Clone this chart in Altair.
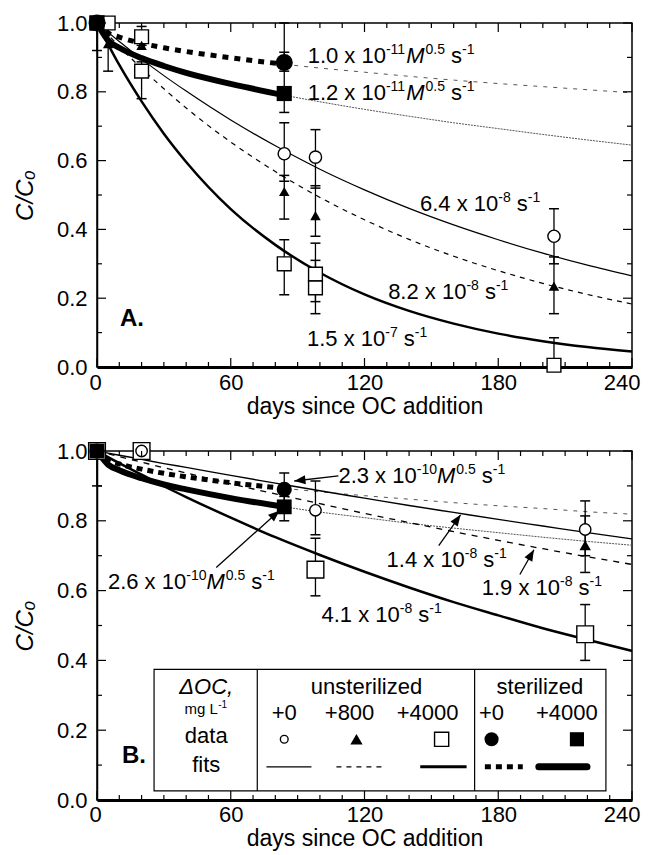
import math
import altair as alt
import pandas as pd

# ---------------- data ----------------
FIT_DAYS = [0, 10, 20, 30, 40, 60, 80, 100, 120, 140, 160, 180, 200, 220, 240]
ST_DAYS = [0, 5, 10, 20, 30, 40, 60, 84]
ST_EXT_DAYS = [84, 100, 120, 140, 160, 180, 200, 220, 240]

# panel A fits
A_FIT_64 = [1.0, 0.946, 0.895, 0.847, 0.802, 0.718, 0.643, 0.575, 0.515, 0.461, 0.413, 0.370, 0.331, 0.296, 0.265]
A_FIT_82 = [1.0, 0.932, 0.868, 0.809, 0.753, 0.654, 0.568, 0.493, 0.428, 0.371, 0.322, 0.280, 0.243, 0.211, 0.183]
A_FIT_150 = [1.0, 0.878, 0.772, 0.678, 0.596, 0.459, 0.355, 0.274, 0.211, 0.163, 0.126, 0.097, 0.075, 0.058, 0.045]
A_ST0 = [1.0, 0.971, 0.959, 0.941, 0.928, 0.917, 0.899, 0.880]
A_ST0_EXT = [0.880, 0.869, 0.857, 0.845, 0.834, 0.824, 0.815, 0.806, 0.797]
A_ST4 = [1.0, 0.949, 0.928, 0.898, 0.875, 0.855, 0.823, 0.790]
A_ST4_EXT = [0.790, 0.771, 0.749, 0.729, 0.710, 0.693, 0.676, 0.660, 0.645]

# panel B fits
B_FIT_14 = [1.0, 0.988, 0.976, 0.964, 0.953, 0.930, 0.908, 0.886, 0.865, 0.844, 0.824, 0.804, 0.785, 0.766, 0.748]
B_FIT_19 = [1.0, 0.984, 0.968, 0.952, 0.937, 0.906, 0.877, 0.849, 0.821, 0.795, 0.769, 0.744, 0.720, 0.697, 0.675]
B_FIT_41 = [1.0, 0.965, 0.932, 0.899, 0.868, 0.809, 0.753, 0.702, 0.654, 0.609, 0.567, 0.529, 0.492, 0.459, 0.427]
B_ST0 = [1.0, 0.974, 0.963, 0.948, 0.936, 0.926, 0.909, 0.893]
B_ST0_EXT = [0.893, 0.883, 0.872, 0.862, 0.852, 0.843, 0.835, 0.826, 0.819]
B_ST4 = [1.0, 0.961, 0.945, 0.922, 0.904, 0.890, 0.865, 0.840]
B_ST4_EXT = [0.840, 0.825, 0.809, 0.793, 0.779, 0.766, 0.753, 0.741, 0.730]

# panel A data points (day, C/Co, error low, error high)
A_OC_DAY = [0, 84, 98, 205]
A_OC_C = [1.0, 0.62, 0.61, 0.38]
A_OC_LO = [1.0, 0.54, 0.52, 0.30]
A_OC_HI = [1.0, 0.71, 0.69, 0.46]

A_TRI_DAY = [0, 5, 20, 84, 98, 205]
A_TRI_C = [1.0, 0.94, 0.935, 0.51, 0.44, 0.235]
A_TRI_LO = [0.92, 0.94, 0.935, 0.43, 0.38, 0.155]
A_TRI_HI = [1.0, 0.94, 0.935, 0.557, 0.527, 0.32]

A_SQ_DAY = [0, 5, 20, 20, 84, 98, 98, 205]
A_SQ_C = [1.0, 1.0, 0.96, 0.86, 0.30, 0.27, 0.23, 0.005]
A_SQ_LO = [1.0, 0.86, 0.935, 0.78, 0.21, 0.19, 0.155, 0.0]
A_SQ_HI = [1.0, 1.0, 0.99, 0.887, 0.37, 0.36, 0.31, 0.085]

A_FC_DAY = [0, 84]
A_FC_C = [1.0, 0.885]
A_FC_LO = [1.0, 0.86]
A_FC_HI = [1.0, 1.0]

A_FS_DAY = [0, 84]
A_FS_C = [1.0, 0.795]
A_FS_LO = [1.0, 0.74]
A_FS_HI = [1.0, 0.915]

# panel B data points
B_OC_DAY = [0, 20, 98, 219]
B_OC_C = [1.0, 1.0, 0.83, 0.775]
B_OC_LO = [1.0, 1.0, 0.76, 0.70]
B_OC_HI = [1.0, 1.0, 0.914, 0.857]

B_TRI_DAY = [0, 219]
B_TRI_C = [1.0, 0.73]
B_TRI_LO = [0.90, 0.652]
B_TRI_HI = [1.0, 0.814]

B_SQ_DAY = [0, 20, 98, 219]
B_SQ_C = [1.0, 1.0, 0.66, 0.475]
B_SQ_LO = [1.0, 1.0, 0.585, 0.40]
B_SQ_HI = [1.0, 1.0, 0.75, 0.56]

B_FC_DAY = [0, 84]
B_FC_C = [1.0, 0.89]
B_FC_LO = [1.0, 0.85]
B_FC_HI = [1.0, 0.937]

B_FS_DAY = [0, 84]
B_FS_C = [1.0, 0.84]
B_FS_LO = [1.0, 0.80]
B_FS_HI = [1.0, 0.87]

# axis ticks
X_MAJOR = [0, 60, 120, 180, 240]
X_MINOR = [d for d in range(10, 240, 10) if d % 60]
Y_MAJOR = [0.0, 0.2, 0.4, 0.6, 0.8, 1.0]
Y_MINOR = [0.1, 0.3, 0.5, 0.7, 0.9]

# ---------------- styling ----------------
FONT = "Liberation Sans"
W, HA, HB = 535, 344, 349
XS = alt.Scale(domain=[0, 240], nice=False, zero=False)
YS = alt.Scale(domain=[0, 1], nice=False, zero=False)


def make_xaxis(label_pad, title_pad, title_size):
    return alt.Axis(values=X_MAJOR, title="days since OC addition", tickSize=0,
                    labelPadding=label_pad, titlePadding=title_pad, domainWidth=3,
                    domainColor="black", labelFontSize=22, titleFontSize=title_size,
                    labelFont=FONT, titleFont=FONT, titleFontWeight="normal",
                    labelColor="black", titleColor="black", grid=False, labelFlush=True,
                    labelFlushOffset=8, labelOverlap=False)


XAXIS_A = make_xaxis(5, 2, 23)
XAXIS_B = make_xaxis(4, 2, 23)
CUR = {"xaxis": XAXIS_A}

YAXIS = alt.Axis(values=Y_MAJOR, format=".1f", title="C/Cₒ", tickSize=0, labelPadding=10,
                 titlePadding=19, domainWidth=1.5, domainColor="black", labelFontSize=22,
                 titleFontSize=24, labelFont=FONT, titleFont=FONT, titleFontWeight="normal",
                 titleFontStyle="italic", labelColor="black", titleColor="black", grid=False,
                 labelFlush=False, labelOverlap=False)

# approximate Helvetica/Arial advance widths (em) for positioning rich-text pieces
CW = {".": 0.278, " ": 0.278, "x": 0.5, "s": 0.5, "-": 0.333, "M": 0.833, "L": 0.556,
      "m": 0.833, "g": 0.556}


def tw(s, size):
    return sum(CW.get(c, 0.556) for c in s) * size


def X(f):
    return alt.X(f"{f}:Q", scale=XS, axis=CUR["xaxis"])


def Y(f):
    return alt.Y(f"{f}:Q", scale=YS, axis=YAXIS)


def line(days, vals, **mk):
    df = pd.DataFrame({"day": days, "C": vals})
    return alt.Chart(df).mark_line(color=mk.pop("color", "black"), interpolate="monotone",
                                   clip=True, **mk).encode(x=X("day"), y=Y("C"))


def points(days, vals, lo, hi, mk):
    df = pd.DataFrame({"day": days, "C": vals, "lo": lo, "hi": hi})
    e = df[df.lo < df.hi]
    bars = alt.Chart(e).mark_rule(color="black", strokeWidth=1.3).encode(
        x=X("day"), y=Y("lo"), y2=alt.Y2("hi"))
    caps = []
    for f in ("lo", "hi"):
        sub = df[df[f] != df["C"]]
        caps.append(alt.Chart(sub).mark_rule(color="black", strokeWidth=1.5, xOffset=-5,
                                             x2Offset=5).encode(x=X("day"), x2=alt.X2("day"), y=Y(f)))
    pts = alt.Chart(df).mark_point(opacity=1, **mk).encode(x=X("day"), y=Y("C"))
    return [bars] + caps, pts


def open_mk(shape, size):
    return dict(shape=shape, size=size, filled=True, fill="white", stroke="black", strokeWidth=1.4)


def full_mk(shape, size):
    return dict(shape=shape, size=size, filled=True, color="black")


def ticks(H):
    out = []
    for vals, ln in ((X_MAJOR, 9), (X_MINOR, 5)):
        base = alt.Chart(pd.DataFrame({"t": vals})).mark_rule(color="black", strokeWidth=1.2)
        out.append(base.encode(x=X("t"), y=alt.value(H), y2=alt.value(H - ln)))
        out.append(base.encode(x=X("t"), y=alt.value(0), y2=alt.value(ln)))
    for vals, ln in ((Y_MAJOR, 9), (Y_MINOR, 5)):
        base = alt.Chart(pd.DataFrame({"t": vals})).mark_rule(color="black", strokeWidth=1.2)
        out.append(base.encode(y=Y("t"), x=alt.value(0), x2=alt.value(ln)))
        out.append(base.encode(y=Y("t"), x=alt.value(W), x2=alt.value(W - ln)))
    return out


def text(rows, align="left", size=22, **kw):
    df = pd.DataFrame(rows, columns=["x", "y", "t"])
    return alt.Chart(df).mark_text(align=align, baseline="alphabetic", font=FONT, fontSize=size,
                                   color="black", **kw).encode(x=X("x"), y=Y("y"), text="t:N")


def rich(x, y, segs, size=22, sup=14, raise_=9):
    """segs: list of (text, kind) with kind in n / sup / it"""
    out, off = [], 0.0
    for s, kind in segs:
        fs = sup if kind == "sup" else size
        lead = len(s) - len(s.lstrip(" "))
        off += tw(" " * lead, fs)
        s = s.lstrip(" ")
        kw = {"dx": round(off, 1)}
        if kind == "sup":
            kw["dy"] = -raise_
        if kind == "it":
            kw["fontStyle"] = "italic"
        out.append(text([(x, y, s)], size=fs, **kw))
        off += tw(s, fs) + (1 if kind == "it" else 0)
    return out


def rate_m(mant, exp, x, y):
    return rich(x, y, [(mant + " x 10", "n"), (exp, "sup"), ("M", "it"), ("0.5", "sup"),
                       (" s", "n"), ("-1", "sup")])


def rate(mant, exp, x, y):
    return rich(x, y, [(mant + " x 10", "n"), (exp, "sup"), (" s", "n"), ("-1", "sup")])


def arrows(rows, H):
    df = pd.DataFrame(rows, columns=["x0", "y0", "x1", "y1"])
    df["ang"] = [
        math.degrees(math.atan2((r.x1 - r.x0) * W / 240, (r.y1 - r.y0) * H)) % 360
        for r in df.itertuples()
    ]
    shaft = alt.Chart(df).mark_rule(color="black", strokeWidth=1.3).encode(
        x=X("x0"), y=Y("y0"), x2=alt.X2("x1"), y2=alt.Y2("y1"))
    head = alt.Chart(df).mark_point(shape="M0,0L-0.4,1L0.4,1Z", size=500, filled=True,
                                    color="black", opacity=1).encode(
        x=X("x1"), y=Y("y1"), angle=alt.Angle("ang:Q", scale=None))
    return [shaft, head]


# ---------------- panel A ----------------
CUR["xaxis"] = XAXIS_A
A_layers = [
    line(ST_EXT_DAYS, A_ST0_EXT, color="#555", strokeWidth=1, strokeDash=[4, 6]),
    line(ST_EXT_DAYS, A_ST4_EXT, color="#555", strokeWidth=1, strokeDash=[2, 1]),
    line(FIT_DAYS, A_FIT_64, strokeWidth=1.2),
    line(FIT_DAYS, A_FIT_82, strokeWidth=1.2, strokeDash=[5, 5]),
    line(FIT_DAYS, A_FIT_150, strokeWidth=2.5),
    line(ST_DAYS, A_ST0, strokeWidth=5, strokeDash=[6, 6], strokeCap="butt"),
    line(ST_DAYS, A_ST4, strokeWidth=6),
]
A_marks = []
for args, mk in (
    ((A_SQ_DAY, A_SQ_C, A_SQ_LO, A_SQ_HI), open_mk("square", 190)),
    ((A_TRI_DAY, A_TRI_C, A_TRI_LO, A_TRI_HI), full_mk("triangle-up", 110)),
    ((A_OC_DAY, A_OC_C, A_OC_LO, A_OC_HI), open_mk("circle", 150)),
    ((A_FC_DAY, A_FC_C, A_FC_LO, A_FC_HI), full_mk("circle", 290)),
    ((A_FS_DAY, A_FS_C, A_FS_LO, A_FS_HI), full_mk("square", 230)),
):
    e, p = points(*args, mk)
    A_layers += e
    A_marks.append(p)
A_layers += A_marks + ticks(HA)
A_layers += rate_m("1.0", "-11", 94.5, 0.883)
A_layers += rate_m("1.2", "-11", 94.5, 0.776)
A_layers += rate("6.4", "-8", 144.9, 0.453)
A_layers += rate("8.2", "-8", 130.6, 0.198)
A_layers += rate("1.5", "-7", 94.2, 0.061)
A_layers += [text([(10.3, 0.12, "A.")], size=24, fontWeight="bold")]
panelA = alt.layer(*A_layers).properties(width=W, height=HA)

# ---------------- panel B ----------------
CUR["xaxis"] = XAXIS_B
B_layers = [
    line(ST_EXT_DAYS, B_ST0_EXT, color="#555", strokeWidth=1, strokeDash=[4, 6]),
    line(ST_EXT_DAYS, B_ST4_EXT, color="#555", strokeWidth=1, strokeDash=[2, 1]),
    line(FIT_DAYS, B_FIT_14, strokeWidth=1.4),
    line(FIT_DAYS, B_FIT_19, strokeWidth=1.3, strokeDash=[6, 6]),
    line(FIT_DAYS, B_FIT_41, strokeWidth=2.5),
    line(ST_DAYS, B_ST0, strokeWidth=5, strokeDash=[6, 5], strokeCap="butt"),
    line(ST_DAYS, B_ST4, strokeWidth=6),
]
B_marks = []
for args, mk in (
    ((B_SQ_DAY, B_SQ_C, B_SQ_LO, B_SQ_HI), open_mk("square", 280)),
    ((B_TRI_DAY, B_TRI_C, B_TRI_LO, B_TRI_HI), full_mk("triangle-up", 130)),
    ((B_OC_DAY, B_OC_C, B_OC_LO, B_OC_HI), open_mk("circle", 130)),
    ((B_FC_DAY, B_FC_C, B_FC_LO, B_FC_HI), full_mk("circle", 230)),
    ((B_FS_DAY, B_FS_C, B_FS_LO, B_FS_HI), full_mk("square", 220)),
):
    e, p = points(*args, mk)
    B_layers += e
    B_marks.append(p)
B_layers += B_marks + ticks(HB)
B_layers += rate_m("2.3", "-10", 108.3, 0.909)
B_layers += rate_m("2.6", "-10", 4.9, 0.604)
B_layers += rate("1.4", "-8", 129.9, 0.669)
B_layers += rate("1.9", "-8", 172.6, 0.586)
B_layers += rate("4.1", "-8", 100.7, 0.509)
B_layers += [text([(11.2, 0.105, "B.")], size=24, fontWeight="bold")]
B_layers += arrows([(108.3, 0.929, 88.5, 0.914), (53.5, 0.666, 81.8, 0.829),
                    (153.3, 0.729, 163.1, 0.817), (189.7, 0.646, 196.0, 0.717)], HB)

# legend table
LEG_BOX = pd.DataFrame({"x0": [25.6], "x1": [228.3], "y0": [0.026], "y1": [0.374]})
LEG_DIV = pd.DataFrame({"x": [71.9, 169.4], "y0": [0.026, 0.026], "y1": [0.374, 0.374]})
B_layers += [
    alt.Chart(LEG_BOX).mark_rect(fill="white", stroke="black", strokeWidth=1.2).encode(
        x=X("x0"), x2=alt.X2("x1"), y=Y("y0"), y2=alt.Y2("y1")),
    alt.Chart(LEG_DIV).mark_rule(color="black", strokeWidth=1.2).encode(
        x=X("x"), y=Y("y0"), y2=alt.Y2("y1")),
    text([(49, 0.305, "ΔOC,")], align="center", fontStyle="italic"),
    text([(49, 0.245, "mg L")], align="center", size=15, dx=-5),
    text([(49, 0.245, "-1")], align="left", size=10, dx=12, dy=-6),
    text([(49, 0.162, "data"), (49, 0.080, "fits")], align="center"),
    text([(120.9, 0.305, "unsterilized"), (198.7, 0.305, "sterilized")], align="center"),
    text([(84, 0.228, "+0"), (113.3, 0.228, "+800"), (148.3, 0.228, "+4000"),
          (177, 0.228, "+0"), (210.8, 0.228, "+4000")], align="center"),
    alt.Chart(pd.DataFrame({"x": [84], "y": [0.174]})).mark_point(**open_mk("circle", 60), opacity=1).encode(x=X("x"), y=Y("y")),
    alt.Chart(pd.DataFrame({"x": [116.4], "y": [0.174]})).mark_point(**full_mk("triangle-up", 150), opacity=1).encode(x=X("x"), y=Y("y")),
    alt.Chart(pd.DataFrame({"x": [154.6], "y": [0.174]})).mark_point(**open_mk("square", 200), opacity=1).encode(x=X("x"), y=Y("y")),
    alt.Chart(pd.DataFrame({"x": [177], "y": [0.174]})).mark_point(**full_mk("circle", 200), opacity=1).encode(x=X("x"), y=Y("y")),
    alt.Chart(pd.DataFrame({"x": [215.3], "y": [0.174]})).mark_point(**full_mk("square", 200), opacity=1).encode(x=X("x"), y=Y("y")),
    line([76, 96.2], [0.095, 0.095], strokeWidth=1.2),
    line([107.4, 129], [0.095, 0.095], strokeWidth=1.2, strokeDash=[5, 5]),
    line([145, 165.8], [0.095, 0.095], strokeWidth=3),
    line([174, 191], [0.095, 0.095], strokeWidth=5, strokeDash=[6, 5], strokeCap="butt"),
    line([198.2, 219.8], [0.095, 0.095], strokeWidth=7, strokeCap="round"),
]
panelB = alt.layer(*B_layers).properties(width=W, height=HB)

chart = (
    alt.vconcat(panelA, panelB, spacing=20)
    .properties(padding={"left": 4, "top": 3, "right": 0, "bottom": 0}, background="white")
    .configure_view(stroke="black", strokeWidth=1.5)
)
chart.save("out.html", embed_options={"renderer": "svg", "actions": False})
